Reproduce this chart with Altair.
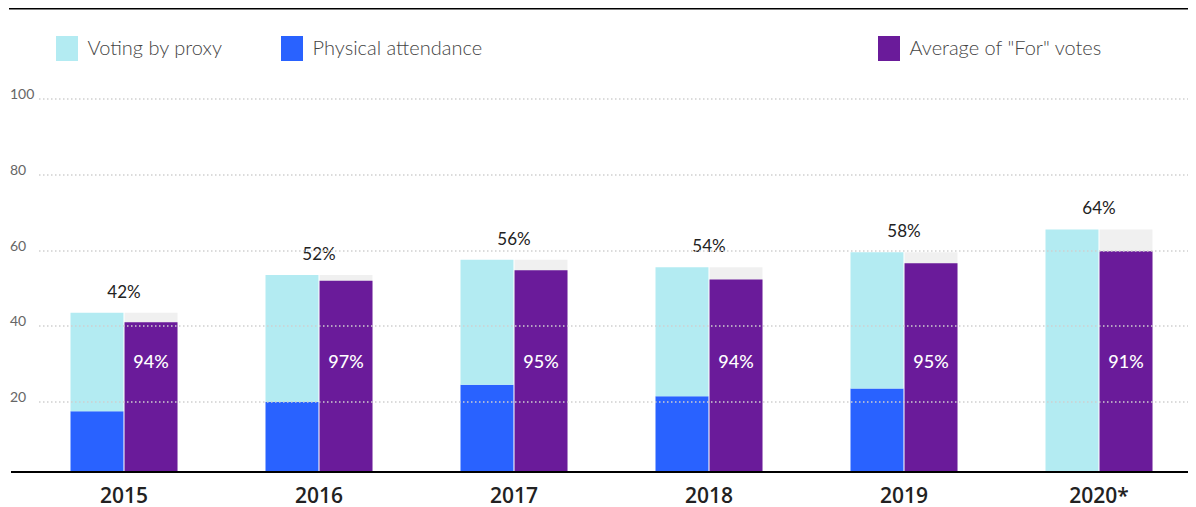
import altair as alt
import pandas as pd

years = ["2015", "2016", "2017", "2018", "2019", "2020*"]
turnout = [42, 52, 56, 54, 58, 64]
physical = [16, 18.5, 23, 20, 22, 0]
for_pct = [94, 97, 95, 94, 95, 91]

PROXY = "Voting by proxy"
PHYS = "Physical attendance"
FOR = 'Average of "For" votes'

rows = []
for y, t, p in zip(years, turnout, physical):
    rows.append(dict(year=y, side="a", seg=PHYS, y0=0, y1=p))
    rows.append(dict(year=y, side="a", seg=PROXY, y0=p, y1=t))
left = pd.DataFrame(rows)

right = pd.DataFrame(dict(
    year=years,
    side="b",
    seg=FOR,
    turnout=turnout,
    forv=[t * f / 100 for t, f in zip(turnout, for_pct)],
    for_label=[f"{f}%" for f in for_pct],
    turnout_label=[f"{t}%" for t in turnout],
))

W, H = 1155, 379
FONT = "Lato"
XFONT = "Open Sans"

xaxis = alt.Axis(title=None, labelAngle=0, domain=False, ticks=False, tickSize=0,
                 grid=False, labelPadding=30, labelBaseline="alphabetic",
                 labelFont=XFONT, labelFontSize=21, labelFontWeight=600,
                 labelColor="#222222")
xscale = alt.Scale(paddingInner=0.4513, paddingOuter=0.1872, align=0.5137)
X = alt.X("year:N", sort=years, scale=xscale, axis=xaxis)

yaxis = alt.Axis(title=None, values=[20, 40, 60, 80, 100], domain=False, ticks=False,
                 tickSize=0, grid=True, gridColor="#cfcfcf", gridDash=[1.5, 2.5],
                 gridWidth=1.5, translate=6, labelAlign="left", labelPadding=29,
                 labelBaseline="middle", labelOffset=-4, labelFont=FONT,
                 labelFontSize=14, labelColor="#666666", zindex=1)
yscale = alt.Scale(domain=[0, 100], nice=False, zero=True)

xoff_scale = alt.Scale(domain=["a", "b"], paddingInner=0.02, paddingOuter=0)

sym = "M-0.88,-1H0.88V1H-0.88Z"
legend_common = dict(orient="none", direction="horizontal", title=None,
                     symbolType=sym, symbolSize=625, symbolStrokeWidth=0,
                     symbolOpacity=1, labelFont=FONT, labelFontSize=20,
                     labelFontWeight=300, labelColor="#444444", labelOffset=8,
                     labelLimit=500, padding=0, legendY=-57)

left_bars = alt.Chart(left).mark_bar().encode(
    x=X,
    xOffset=alt.XOffset("side:N", scale=xoff_scale),
    y=alt.Y("y1:Q", scale=yscale, axis=yaxis),
    y2="y0:Q",
    color=alt.Color("seg:N",
                    scale=alt.Scale(domain=[PROXY, PHYS], range=["#b3ebf2", "#2962ff"]),
                    legend=alt.Legend(legendX=21.5, columnPadding=57, **legend_common)),
)

gray_bars = alt.Chart(right).mark_bar(color="#f0f0f0").encode(
    x=X,
    xOffset=alt.XOffset("side:N", scale=xoff_scale),
    y=alt.Y("turnout:Q", scale=yscale, axis=yaxis),
)

for_bars = alt.Chart(right).mark_bar().encode(
    x=X,
    xOffset=alt.XOffset("side:N", scale=xoff_scale),
    y=alt.Y("forv:Q", scale=yscale, axis=yaxis),
    color=alt.Color("seg:N",
                    scale=alt.Scale(domain=[FOR], range=["#6a1b9a"]),
                    legend=alt.Legend(legendX=843.5, **legend_common)),
)

turnout_text = alt.Chart(right).mark_text(dy=-20, font=FONT, fontSize=17,
                                          color="#222222").encode(
    x=X,
    y=alt.Y("turnout:Q", scale=yscale, axis=yaxis),
    text="turnout_label:N",
)

for_text = alt.Chart(right).mark_text(font=FONT, fontSize=18, fontWeight=500,
                                      color="white").encode(
    x=X,
    xOffset=alt.XOffset("side:N", scale=xoff_scale),
    y=alt.datum(28.7),
    text="for_label:N",
)

one = pd.DataFrame({"k": [0]})
baseline = alt.Chart(one).mark_rule(color="black", strokeWidth=2).encode(
    y=alt.datum(0), x=alt.value(-22), x2=alt.value(W)
)
topline = alt.Chart(one).mark_rule(color="black", strokeWidth=2).encode(
    y=alt.value(-84.5), x=alt.value(-24), x2=alt.value(W)
)

chart = alt.layer(
    left_bars, gray_bars, for_bars, turnout_text, for_text, baseline, topline
).resolve_scale(color="independent").properties(
    width=W, height=H,
    padding={"left": 25, "top": 85, "right": 0, "bottom": 35},
    autosize=alt.AutoSizeParams(type="none"),
).configure_view(stroke=None)

chart.save("out.html", embed_options={"renderer": "svg", "actions": False})
